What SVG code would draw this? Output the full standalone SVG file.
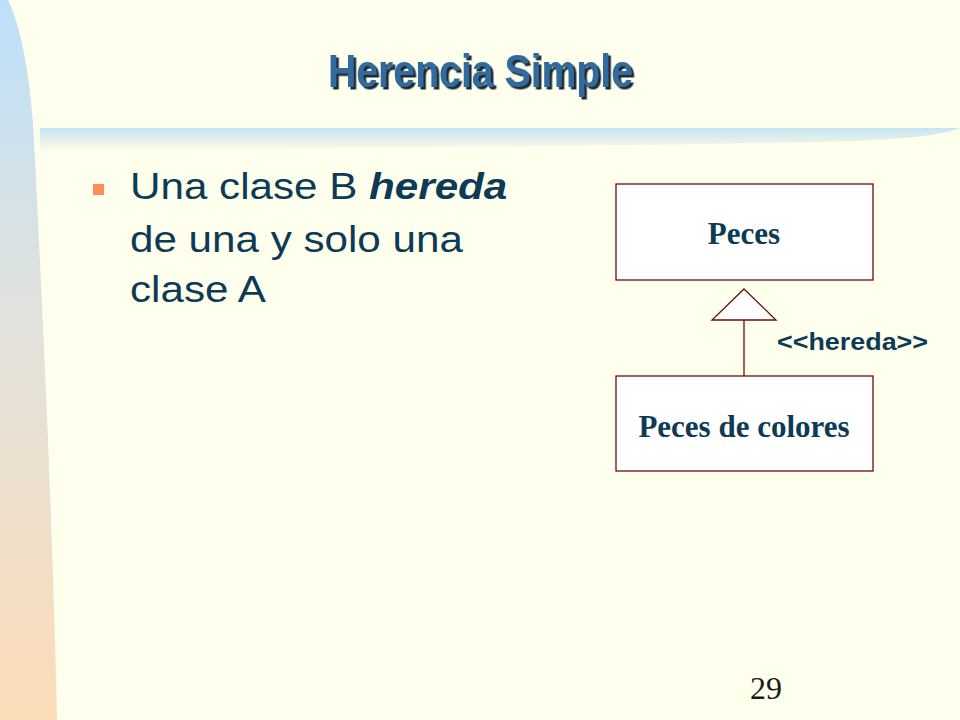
<svg xmlns="http://www.w3.org/2000/svg" width="960" height="720" viewBox="0 0 960 720">
<defs>
<linearGradient id="side" x1="0" y1="0" x2="0" y2="1">
<stop offset="0" stop-color="#BDE0FA"/>
<stop offset="0.45" stop-color="#E2E2DC"/>
<stop offset="1" stop-color="#FCDCB8"/>
</linearGradient>
<linearGradient id="bar" x1="0" y1="0" x2="0" y2="1">
<stop offset="0" stop-color="#C6E4F6"/>
<stop offset="0.55" stop-color="#E6F2E8"/>
<stop offset="1" stop-color="#FFFFEE"/>
</linearGradient>
<filter id="shadow" x="-5%" y="-20%" width="115%" height="150%">
<feDropShadow dx="2.5" dy="2.5" stdDeviation="0.6" flood-color="#1E2A36" flood-opacity="1"/>
</filter>
<style>
.box{fill:#FFFFFF;stroke:#6B0D0D;stroke-width:1.3}
.conn{fill:#FFFFFF;stroke:#6B0D0D;stroke-width:1.3}
.cls{font-family:"Liberation Serif","Times New Roman",serif;font-weight:bold;font-size:31px;fill:#0D3B55;text-anchor:middle}
.body{font-family:"Liberation Sans",Arial,sans-serif;font-size:37px;fill:#0D3B55}
.ttl{font-family:"Liberation Sans",Arial,sans-serif;font-weight:bold;font-size:47px;text-anchor:middle}
</style>
</defs>
<rect width="960" height="720" fill="#FFFFEE"/>
<path d="M0,0 L8,0 C20,25 30,70 34,140 C42,300 52,500 57,720 L0,720 Z" fill="url(#side)"/>
<path d="M40,128 L960,128 C940,136 900,140 820,142 C600,146 300,149 40,152 Z" fill="url(#bar)"/>
<g id="title">
<text class="ttl" x="480.5" y="87" fill="#336A9C" filter="url(#shadow)" textLength="305" lengthAdjust="spacingAndGlyphs">Herencia Simple</text>
</g>
<g id="bullet">
<rect x="93" y="184" width="11" height="11" fill="#FF8C5A"/>
<g transform="translate(130,0) scale(1.14,1)">
<text class="body" x="0" y="199">Una clase B <tspan font-weight="bold" font-style="italic">hereda</tspan></text>
<text class="body" x="0" y="252">de una y solo una</text>
<text class="body" x="0" y="302">clase A</text>
</g>
</g>
<g id="connectors">
<line class="conn" x1="744" y1="320" x2="744" y2="376"/>
<polygon class="conn" points="744,289 776,320 712,320"/>
<text x="777" y="350" font-family="Liberation Sans,Arial,sans-serif" font-weight="bold" font-size="23.5" fill="#0D3B55" textLength="151" lengthAdjust="spacingAndGlyphs">&lt;&lt;hereda&gt;&gt;</text>
</g>
<g id="peces">
<rect class="box" x="616" y="184" width="257" height="96"/>
<text class="cls" x="744" y="244">Peces</text>
</g>
<g id="peces-colores">
<rect class="box" x="616" y="376" width="257" height="95"/>
<text class="cls" x="744" y="437">Peces de colores</text>
</g>
<text x="766" y="699" font-family="Liberation Serif,Times New Roman,serif" font-size="32" fill="#1A1A1A" text-anchor="middle">29</text>
</svg>
